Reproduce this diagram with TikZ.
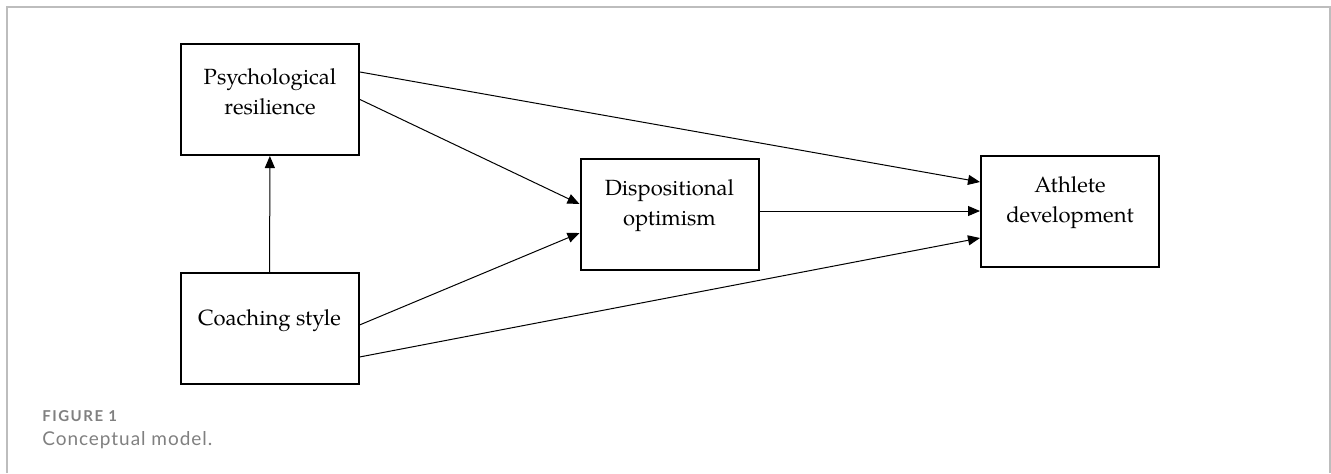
\documentclass[tikz,border=0pt]{standalone}
\usepackage{fontspec}
\setmainfont{TeX Gyre Pagella}
\newfontfamily\capfont{Lato}[LetterSpace=5]
\newfontfamily\capnofont{Lato}[LetterSpace=10]
\usetikzlibrary{arrows.meta, positioning}
\definecolor{framegray}{HTML}{BDBDBD}
\definecolor{capgray}{HTML}{808080}

\begin{document}
\begin{tikzpicture}[x=0.5pt,y=-0.5pt,>={Triangle[length=6pt,width=5pt]},
      construct/.style={draw,line width=1pt,minimum width=89pt,minimum height=55.5pt,inner sep=0pt},
      construct text/.style={align=center,inner sep=0pt,font=\fontsize{11}{15}\selectfont},
      caption text/.style={anchor=base west,inner sep=0pt,text=capgray}]
      \useasboundingbox (0,0) rectangle (1331,473);
      % frame round the figure
      \draw[framegray,line width=1pt] (7,473) -- (7,7) -- (1330,7) -- (1330,473);
      \node[construct] (psych) at (270,99.5) {};
      \node[construct] (coach) at (269.5,328.5) {};
      \node[construct] (disp) at (669.5,214) {};
      \node[construct] (athl) at (1070,211) {};
      \node[construct text] (psych_t) at ([yshift=4pt]psych.center) {Psychological\\resilience};
      \node[construct text] (coach_t) at ([yshift=4pt]coach.center) {Coaching style};
      \node[construct text] (disp_t) at ([yshift=4pt]disp.center) {Dispositional\\optimism};
      \node[construct text] (athl_t) at ([yshift=4pt]athl.center) {Athlete\\development};
      \path[->,line width=0.5pt]
      (coach) edge (psych)
      ([yshift=13.75pt]psych.east) edge ([yshift=14.5pt]athl.west)
      (psych.east) edge ([yshift=5pt]disp.west)
      ([yshift=1.5pt]disp.east) edge (athl.west)
      ([yshift=1.75pt]coach.east) edge ([yshift=-9.5pt]disp.west)
      ([yshift=-14.25pt]coach.east) edge ([yshift=-13.5pt]athl.west);
      % caption
      \node[caption text,font=\capnofont\bfseries\fontsize{7.5}{8}\selectfont] (figno) at (42,421) {FIGURE 1};
      \node[caption text,font=\capfont\fontsize{9.5}{11}\selectfont] (figcap) at (42,445) {Conceptual model.};
    \end{tikzpicture}
\end{document}
